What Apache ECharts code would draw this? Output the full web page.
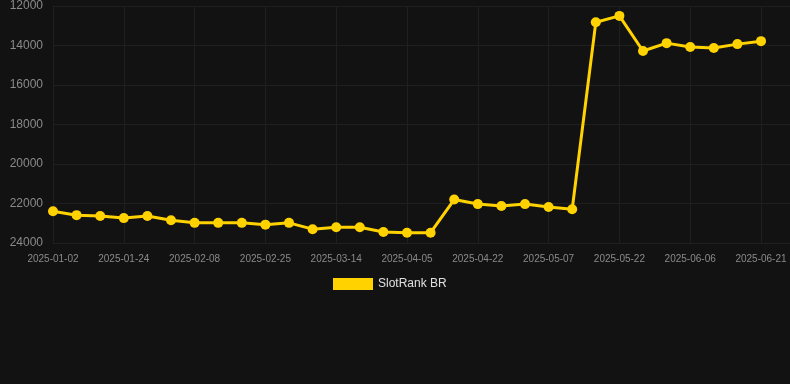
<!DOCTYPE html>
<html>
<head>
<meta charset="utf-8">
<script src="https://cdn.jsdelivr.net/npm/echarts@6/dist/echarts.min.js"></script>
<style>
html,body{margin:0;padding:0;background:#121212;}
#c{width:790px;height:384px;}
</style>
</head>
<body>
<div id="c"></div>
<script>
const dates = ['2025-01-02','2025-01-09','2025-01-17','2025-01-24','2025-01-29','2025-02-03','2025-02-08','2025-02-14','2025-02-19','2025-02-25','2025-03-03','2025-03-08','2025-03-14','2025-03-21','2025-03-28','2025-04-05','2025-04-11','2025-04-16','2025-04-22','2025-04-27','2025-05-02','2025-05-07','2025-05-12','2025-05-17','2025-05-22','2025-05-27','2025-06-01','2025-06-06','2025-06-11','2025-06-16','2025-06-21'];
const rankBR = [22390,22590,22630,22740,22630,22850,22980,22980,22980,23070,22980,23300,23200,23200,23440,23480,23480,21800,22030,22130,22030,22180,22290,12820,12500,14280,13880,14080,14130,13930,13780];
const seriesName = 'SlotRank BR';
const yMin = 12000, yMax = 24000, yStep = 2000;

const chart = echarts.init(document.getElementById('c'), null, {renderer:'canvas'});
const splitColor = '#1f1f1f';
const font = 'Liberation Sans, Arial, sans-serif';
chart.setOption({
  backgroundColor: '#121212',
  animation: false,
  grid: [
    {left: 53, right: 29, top: 6, bottom: 141},
    {left: 53, right: 0, top: 6, bottom: 141}
  ],
  legend: {
    data: [seriesName],
    left: 328, top: 273,
    itemWidth: 40, itemHeight: 12, itemGap: 10,
    icon: 'rect',
    textStyle: {color: '#e0e0e0', fontSize: 12, fontFamily: font}
  },
  xAxis: [{
    type: 'category', gridIndex: 0, data: dates, boundaryGap: false,
    axisLine: {show: false},
    axisTick: {show: false},
    axisLabel: {interval: 2, color: '#8a8a8a', fontSize: 10, margin: 11, fontFamily: font},
    splitLine: {show: true, interval: 2, lineStyle: {color: splitColor, width: 1}}
  }, {
    type: 'category', gridIndex: 1, data: [''], show: false
  }],
  yAxis: [{
    type: 'value', gridIndex: 0, inverse: true, min: yMin, max: yMax, interval: yStep,
    axisLine: {show: false}, axisTick: {show: false},
    axisLabel: {color: '#8a8a8a', fontSize: 12, margin: 10, fontFamily: font, formatter: v => String(v)},
    splitLine: {lineStyle: {color: splitColor, width: 1}}
  }, {
    type: 'value', gridIndex: 1, inverse: true, min: yMin, max: yMax, interval: yStep,
    axisLine: {show: false}, axisTick: {show: false}, axisLabel: {show: false},
    splitLine: {lineStyle: {color: splitColor, width: 1}}
  }],
  series: [{
    name: seriesName, type: 'line', xAxisIndex: 0, yAxisIndex: 0,
    data: rankBR,
    symbol: 'circle', symbolSize: 10,
    lineStyle: {color: '#ffd200', width: 3},
    itemStyle: {color: '#ffd200'}
  }]
});
</script>
</body>
</html>
